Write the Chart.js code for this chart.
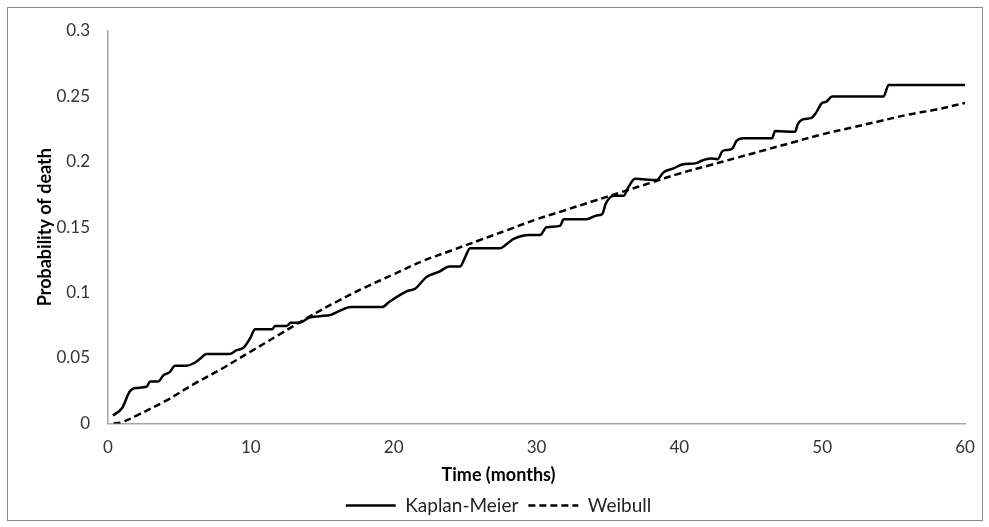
<!DOCTYPE html>
<html>
<head>
<meta charset="utf-8">
<script src="https://cdn.jsdelivr.net/npm/chart.js@4/dist/chart.umd.min.js"></script>
<style>
  html, body { margin: 0; padding: 0; background: #fff; }
  #wrap { position: relative; width: 989px; height: 527px; }
  #frame { position: absolute; left: 7px; top: 7px; width: 974px; height: 512px; border: 1px solid #8c8c8c; pointer-events: none; }
</style>
</head>
<body>
<div id="wrap">
  <canvas id="chart" width="989" height="527"></canvas>
  <div id="frame"></div>
</div>
<script>
// Kaplan-Meier estimate (months, probability)
const kmTime = [0.35, 1.0, 1.5, 1.9, 2.7, 2.95, 3.5, 3.9, 4.3, 4.7, 5.5, 6.0, 6.4, 6.9, 8.5, 9.0, 9.5, 9.95, 10.3,
  11.5, 11.7, 12.5, 12.8, 13.4, 14.1, 14.8, 15.6, 16.2, 17.0, 19.2, 19.7, 20.9, 21.5, 22.3, 23.2, 23.9, 24.65,
  25.0, 25.35, 27.45, 27.9, 28.4, 29.5, 30.25, 30.7, 31.65, 31.9, 33.5, 34.2, 34.6, 34.85, 35.4, 36.1, 36.4,
  36.9, 38.4, 38.9, 39.6, 40.2, 41.2, 41.6, 42.2, 42.7, 43.0, 43.3, 43.7, 44.0, 44.5, 46.5, 46.7, 48.1, 48.3,
  48.7, 49.25, 49.6, 49.95, 50.3, 50.7, 54.3, 54.65, 60];
const kmProb = [0.006, 0.012, 0.024, 0.027, 0.028, 0.032, 0.032, 0.037, 0.039, 0.044, 0.044, 0.046, 0.049, 0.053, 0.053, 0.056, 0.058, 0.065, 0.072,
  0.072, 0.0745, 0.0745, 0.077, 0.077, 0.081, 0.082, 0.083, 0.086, 0.089, 0.089, 0.093, 0.101, 0.103, 0.112, 0.116, 0.12, 0.12,
  0.127, 0.134, 0.134, 0.137, 0.141, 0.144, 0.144, 0.150, 0.151, 0.156, 0.156, 0.159, 0.160, 0.168, 0.174, 0.174, 0.180,
  0.187, 0.186, 0.192, 0.195, 0.198, 0.199, 0.201, 0.2025, 0.202, 0.208, 0.209, 0.210, 0.216, 0.218, 0.218, 0.2235, 0.223, 0.229,
  0.2326, 0.2336, 0.238, 0.2446, 0.246, 0.25, 0.25, 0.2587, 0.2587];

// Weibull fit
const wbTime = [0.4, 1, 2, 4, 6, 8, 10, 12, 14, 16, 18, 20, 22, 24, 26, 28, 30, 32, 34, 36, 38, 40, 42, 44, 46, 48, 50, 52, 54, 56, 58, 60];
const wbProb = [0, 0.001, 0.006, 0.017, 0.03, 0.042, 0.055, 0.068, 0.081, 0.093, 0.104, 0.114, 0.124, 0.132, 0.140, 0.148, 0.156,
  0.163, 0.170, 0.177, 0.184, 0.191, 0.197, 0.203, 0.209, 0.215, 0.221, 0.226, 0.231, 0.236, 0.240, 0.245];

const seriesNames = ['Kaplan-Meier', 'Weibull'];

const toPoints = (xs, ys) => xs.map((x, i) => ({ x, y: ys[i] }));
const FONT = 'Lato, "Liberation Sans", sans-serif';

// legend keeps the dash of each dataset (point style drops it otherwise)
const legendLabels = chart =>
  Chart.defaults.plugins.legend.labels.generateLabels(chart).map(item => {
    const ds = chart.data.datasets[item.datasetIndex];
    return { ...item, lineDash: ds.borderDash || [], lineWidth: ds.borderWidth, strokeStyle: ds.borderColor };
  });

new Chart(document.getElementById('chart'), {
  type: 'line',
  data: {
    datasets: [
      {
        label: seriesNames[0],
        data: toPoints(kmTime, kmProb),
        borderColor: '#000', borderWidth: 2.5,
        pointRadius: 0, cubicInterpolationMode: 'monotone', fill: false
      },
      {
        label: seriesNames[1],
        data: toPoints(wbTime, wbProb),
        borderColor: '#000', borderWidth: 2.5, borderDash: [7, 4],
        pointRadius: 0, tension: 0.4, fill: false
      }
    ]
  },
  options: {
    responsive: false,
    animation: false,
    layout: { padding: { left: 8, right: 0, top: 31, bottom: 2 } },
    plugins: {
      tooltip: { enabled: false },
      title: {
        display: true, text: 'Time (months)', position: 'bottom', weight: 500,
        color: '#000', font: { family: FONT, size: 18, weight: 'bold' },
        padding: { top: 0, bottom: 0 }
      },
      legend: {
        position: 'bottom',
        labels: {
          usePointStyle: true, pointStyle: 'line', pointStyleWidth: 50,
          generateLabels: legendLabels,
          color: '#222', font: { family: FONT, size: 19 }, padding: 10
        }
      }
    },
    scales: {
      x: {
        type: 'linear', min: 0, max: 60,
        grid: { display: false, drawTicks: false },
        border: { display: true, color: '#a6a6a6', width: 1.5 },
        ticks: { stepSize: 10, padding: 14, color: '#333', font: { family: FONT, size: 17 } },
        afterFit: s => { s.height = 41; }
      },
      y: {
        min: 0, max: 0.3,
        grid: { display: false, drawTicks: false },
        border: { display: true, color: '#a6a6a6', width: 1.5 },
        ticks: { stepSize: 0.05, padding: 18, color: '#333', font: { family: FONT, size: 17 },
          callback: v => String(+v.toFixed(2)) },
        title: { display: true, text: 'Probability of death', color: '#000',
          font: { family: FONT, size: 18, weight: 'bold' }, padding: { top: 26, bottom: 0 } },
        afterFit: s => { s.width = 100; }
      },
      yRight: {
        position: 'right', display: true,
        grid: { display: false, drawTicks: false },
        border: { display: false },
        ticks: { display: false },
        afterFit: s => { s.width = 24; }
      }
    }
  }
});
</script>
</body>
</html>
